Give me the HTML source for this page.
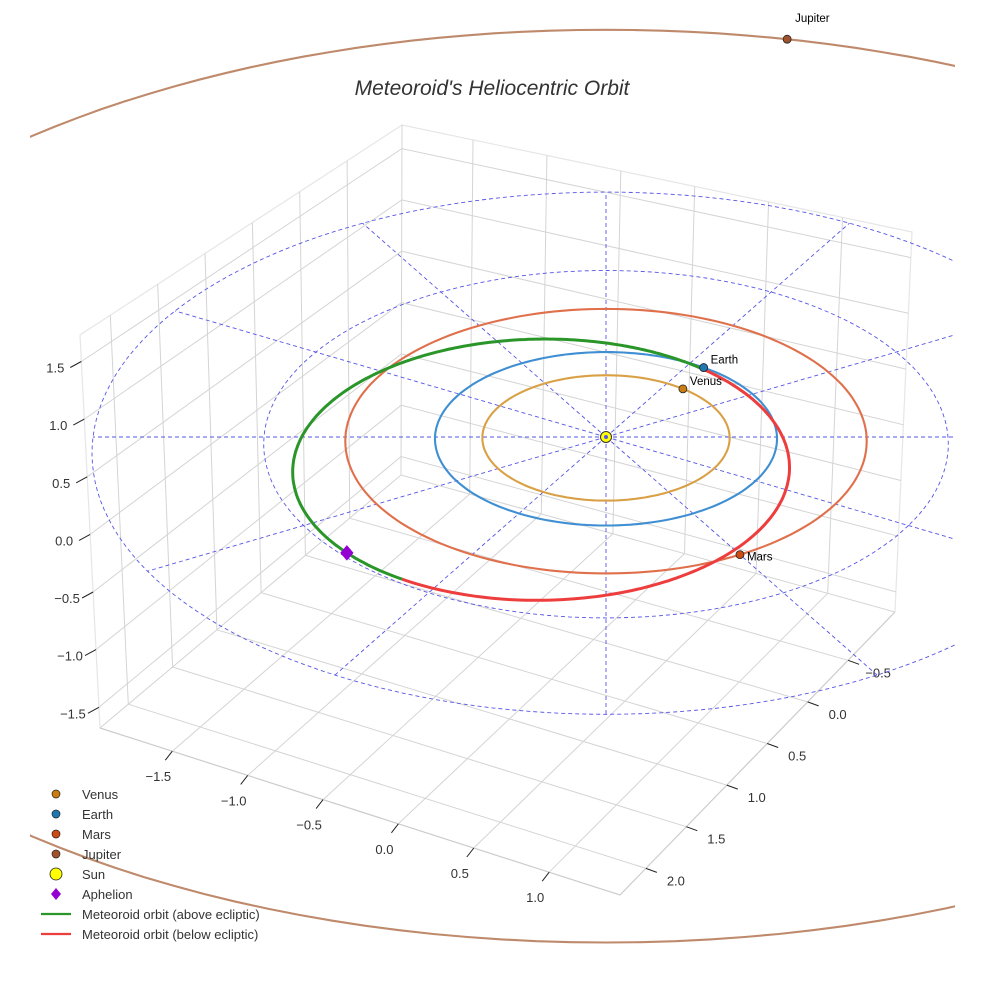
<!DOCTYPE html>
<html><head><meta charset="utf-8">
<style>
html,body{margin:0;padding:0;background:#fff;}
svg{display:block;font-family:"Liberation Sans",sans-serif;}
</style></head>
<body>
<svg id="chart" width="984" height="984" viewBox="0 0 984 984" xmlns="http://www.w3.org/2000/svg">
<defs><clipPath id="clip"><rect x="30" y="0" width="925" height="984"/></clipPath></defs>
<rect width="984" height="984" fill="#fff"/>
<g id="box"></g>
<g id="data" clip-path="url(#clip)"></g>
<g id="labels"></g>
<text x="492" y="95" text-anchor="middle" font-size="21" font-style="italic" fill="#333">Meteoroid's Heliocentric Orbit</text>
<g id="legend"></g>
</svg>
<script>
const xTicks=[-1.5,-1.0,-0.5,0.0,0.5,1.0];
const yTicks=[-0.5,0.0,0.5,1.0,1.5,2.0];
const zTicks=[-1.5,-1.0,-0.5,0.0,0.5,1.0,1.5];
const xRange=[-1.98,1.47];
const yRange=[-1.08,2.32];
const zRange=[-1.68,1.73];
const planetNames=['Venus','Earth','Mars','Jupiter'];
const planetRadii=[0.723,1.0,1.524,5.203];
const planetLongitudes=[279,275.5,30,253];
const planetOrbitColors=['#d9a045','#3f8fd2','#e0704c','#bf8a6c'];
const planetColors=['#c97d12','#1f77b4','#cc4a14','#a0522d'];
const meteoroidA=[1.48];
const meteoroidE=[0.34];
const meteoroidPeri=[288];
const meteoroidNode=[96];
const meteoroidIncl=[3];
const gridRadii=[2,3];
const gridSpokeAngles=[0,30,60,90,120,150,180,210,240,270,300,330];

const NS='http://www.w3.org/2000/svg';
const D=Math.PI/180;
function el(tag,attrs,parent){const e=document.createElementNS(NS,tag);for(const k in attrs)e.setAttribute(k,attrs[k]);parent.appendChild(e);return e;}
const AZ=30*D;
function P(x,y,z){const u=x*Math.cos(AZ)-y*Math.sin(AZ);const v=x*Math.sin(AZ)+y*Math.cos(AZ);const f=1/(1-0.0207*v);return [606+171*u*f,437+(86.7*v-110*z)*f];}
function pathOf(pts){return pts.map((p,i)=>(i?'L':'M')+p[0].toFixed(1)+','+p[1].toFixed(1)).join('');}

const box=document.getElementById('box');
const B={back:[401,475],right:[895,612],left:[100,728],front:[620,895],backTop:[402,125],rightTop:[912,232],leftTop:[80,335]};
function lerp(a,b,t){return [a[0]+(b[0]-a[0])*t,a[1]+(b[1]-a[1])*t];}
function floorPt(s,t){return lerp(lerp(B.back,B.right,s),lerp(B.left,B.front,s),t);}
function leftPane(t,zf){return lerp(lerp(B.back,B.left,t),lerp(B.backTop,B.leftTop,t),zf);}
function rightPane(s,zf){return lerp(lerp(B.back,B.right,s),lerp(B.backTop,B.rightTop,s),zf);}
const fx=v=>(v-xRange[0])/(xRange[1]-xRange[0]);
const fy=v=>(v-yRange[0])/(yRange[1]-yRange[0]);
const fz=v=>(v-zRange[0])/(zRange[1]-zRange[0]);
const G='#d4d4d4';
let ln;
ln=el('path',{d:pathOf([B.left,B.leftTop,B.backTop,B.rightTop,B.right]),fill:'none',stroke:'#e6e6e6','stroke-width':1.2},box);

ln=el('path',{d:pathOf([B.backTop,B.back]),fill:'none',stroke:G,'stroke-width':1},box);

ln=el('path',{d:pathOf([B.left,B.front,B.right]),fill:'none',stroke:'#cccccc','stroke-width':1.2},box);

ln=el('path',{d:pathOf([B.left,B.back,B.right]),fill:'none',stroke:G,'stroke-width':1},box);

xTicks.forEach(v=>{const s=fx(v);
  ln=el('path',{d:pathOf([floorPt(s,0),floorPt(s,1)]),stroke:G,'stroke-width':1,fill:'none'},box);
  
  ln=el('path',{d:pathOf([rightPane(s,0),rightPane(s,1)]),stroke:G,'stroke-width':1,fill:'none'},box);
  
  const e=floorPt(s,1);
  ln=el('path',{d:pathOf([e,[e[0]-7,e[1]+9]]),stroke:'#222','stroke-width':1,fill:'none'},box);
  
  const t=el('text',{x:e[0]-14,y:e[1]+30,'text-anchor':'middle','font-size':13,fill:'#333'},box);
  t.textContent=v.toFixed(1).replace('-','\u2212');
  
});
yTicks.forEach(v=>{const t0=fy(v);
  ln=el('path',{d:pathOf([floorPt(0,t0),floorPt(1,t0)]),stroke:G,'stroke-width':1,fill:'none'},box);
  
  ln=el('path',{d:pathOf([leftPane(t0,0),leftPane(t0,1)]),stroke:G,'stroke-width':1,fill:'none'},box);
  
  const e=floorPt(1,t0);
  ln=el('path',{d:pathOf([e,[e[0]+11,e[1]+4]]),stroke:'#222','stroke-width':1,fill:'none'},box);
  
  const t=el('text',{x:e[0]+30,y:e[1]+17,'text-anchor':'middle','font-size':13,fill:'#333'},box);
  t.textContent=v.toFixed(1).replace('-','\u2212');
  
});
zTicks.forEach(v=>{const z=fz(v);
  ln=el('path',{d:pathOf([leftPane(1,z),leftPane(0,z),rightPane(1,z)]),stroke:G,'stroke-width':1,fill:'none'},box);
  
  const e=leftPane(1,z);
  ln=el('path',{d:pathOf([e,[e[0]-11,e[1]+6]]),stroke:'#222','stroke-width':1,fill:'none'},box);
  
  const t=el('text',{x:e[0]-26,y:e[1]+11,'text-anchor':'middle','font-size':13,fill:'#333'},box);
  t.textContent=v.toFixed(1).replace('-','\u2212');
  
});

const data=document.getElementById('data');
function circlePts(r){const pts=[];for(let a=0;a<=360;a+=2)pts.push(P(r*Math.cos(a*D),r*Math.sin(a*D),0));return pts;}
gridRadii.forEach(r=>{
  ln=el('path',{d:pathOf(circlePts(r)),fill:'none',stroke:'#5555e6','stroke-width':0.9,'stroke-dasharray':'4,3'},data);
  
});
const rMax=gridRadii[gridRadii.length-1];
gridSpokeAngles.forEach(a=>{
  ln=el('path',{d:pathOf([P(0,0,0),P(rMax*Math.cos(a*D),rMax*Math.sin(a*D),0)]),fill:'none',stroke:'#5555e6','stroke-width':0.9,'stroke-dasharray':'4,3'},data);
  
});
planetRadii.forEach((r,i)=>{
  ln=el('path',{d:pathOf(circlePts(r)),fill:'none',stroke:planetOrbitColors[i],'stroke-width':2.1},data);
  
});
const a=meteoroidA[0],e=meteoroidE[0],w=meteoroidPeri[0],om=meteoroidNode[0],inc=meteoroidIncl[0];
function orbPt(lam){const nu=(lam-w)*D;const r=a*(1-e*e)/(1+e*Math.cos(nu));return [r*Math.cos(lam*D),r*Math.sin(lam*D),r*Math.sin(inc*D)*Math.sin((lam-om)*D)];}
const above=[],below=[];
for(let l=om;l<=om+180;l+=1){const p=orbPt(l);above.push(P(p[0],p[1],p[2]));}
for(let l=om+180;l<=om+360;l+=1){const p=orbPt(l);below.push(P(p[0],p[1],p[2]));}
ln=el('path',{d:pathOf(above),fill:'none',stroke:'#2a962a','stroke-width':3},data);

ln=el('path',{d:pathOf(below),fill:'none',stroke:'#ee3d3d','stroke-width':3},data);

const ap=orbPt(w+180);const aps=P(ap[0],ap[1],ap[2]);
ln=el('path',{d:`M${aps[0]},${aps[1]-7}L${aps[0]+6},${aps[1]}L${aps[0]},${aps[1]+7}L${aps[0]-6},${aps[1]}Z`,fill:'#9400d3',stroke:'#9400d3'},data);

const sp=P(0,0,0);
ln=el('circle',{cx:sp[0],cy:sp[1],r:5.5,fill:'#ffff00',stroke:'#333','stroke-width':1},data);

ln=el('circle',{cx:sp[0],cy:sp[1],r:2,fill:'#5555e6'},data);

const labels=document.getElementById('labels');
planetRadii.forEach((r,i)=>{
  const p=P(r*Math.cos(planetLongitudes[i]*D),r*Math.sin(planetLongitudes[i]*D),0);
  ln=el('circle',{cx:p[0],cy:p[1],r:4,fill:planetColors[i],stroke:'#222','stroke-width':0.8},labels);
  
  const t=el('text',{x:p[0]+7,y:p[1]-(i===3?17:(i===2?-6:4)),'font-size':11.5,fill:'#000'},labels);
  if(i===3){t.setAttribute('x',p[0]+8);}
  t.textContent=planetNames[i];
  
});
const lg=document.getElementById('legend');
const legItems=[['Venus','dot','#c97d12'],['Earth','dot','#1f77b4'],['Mars','dot','#cc4a14'],['Jupiter','dot','#a0522d'],['Sun','sun','#ffff00'],['Aphelion','diamond','#9400d3'],['Meteoroid orbit (above ecliptic)','line','#2a962a'],['Meteoroid orbit (below ecliptic)','line','#ee3d3d']];
legItems.forEach((it,i)=>{
  const y=794+i*20;
  const g=el('g',{},lg);
  
  
  if(it[1]==='dot')el('circle',{cx:56,cy:y,r:4,fill:it[2],stroke:'#222','stroke-width':0.7},g);
  else if(it[1]==='sun')el('circle',{cx:56,cy:y,r:6,fill:it[2],stroke:'#222','stroke-width':0.8},g);
  else if(it[1]==='diamond')el('path',{d:`M56,${y-6}L61,${y}L56,${y+6}L51,${y}Z`,fill:it[2]},g);
  else el('line',{x1:41,y1:y,x2:71,y2:y,stroke:it[2],'stroke-width':2.2},g);
  const t=el('text',{x:82,y:y+5,'font-size':13,fill:'#333'},g);
  t.textContent=it[0];
});
</script>
</body></html>
